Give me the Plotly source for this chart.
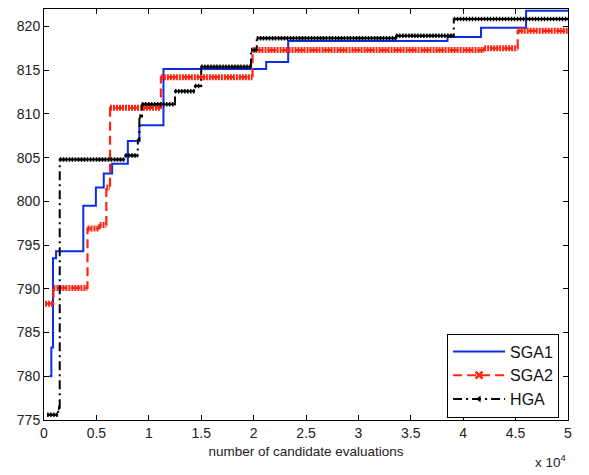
import plotly.graph_objects as go

# Best objective found so far vs. number of candidate evaluations
sga1_x = [500, 700, 860, 1150, 3750, 4950, 5700, 6500, 8000, 9100, 11400,
          21200, 23300, 38500, 41700, 46000, 50000]
sga1_y = [780.0, 783.3, 793.5, 794.3, 799.5, 801.6, 803.2, 804.3, 806.9, 808.7,
          815.15, 815.95, 818.35, 818.8, 819.85, 821.8, 821.8]

sga2_x = [100, 900, 4150, 5300, 5950, 6300, 11150, 19900, 42000, 45200, 50000]
sga2_y = [788.3, 790.1, 796.9, 797.3, 801.6, 810.7, 814.2, 817.3, 817.5,
          819.5, 819.5]

hga_x = [300, 1350, 1500, 7750, 8950, 9100, 9350, 12500, 14400, 15000, 19750,
         20300, 33600, 39100, 50000]
hga_y = [775.6, 776.4, 804.8, 805.25, 807.0, 809.7, 811.1, 812.6, 813.2, 815.4,
         817.3, 818.65, 818.95, 820.85, 820.85]

x_ticks = [0, 5000, 10000, 15000, 20000, 25000, 30000, 35000, 40000, 45000, 50000]
x_tick_labels = ["0", "0.5", "1", "1.5", "2", "2.5", "3", "3.5", "4", "4.5", "5"]
y_ticks = [775, 780, 785, 790, 795, 800, 805, 810, 815, 820]

BLUE = "#0b2fe6"
RED = "#ff2410"
BLACK = "#000000"
FONT = "Liberation Sans, Arial, sans-serif"


def plateaus(xs, ys):
    """Horizontal runs of a step series, separated by gaps."""
    sx, sy = [], []
    for i in range(len(xs) - 1):
        sx += [xs[i], xs[i + 1], None]
        sy += [ys[i], ys[i], None]
    return sx, sy


fig = go.Figure()

# SGA1: plain solid step line
fig.add_trace(go.Scatter(x=sga1_x, y=sga1_y, mode="lines", line_shape="hv",
                         line=dict(color=BLUE, width=2), showlegend=False,
                         hoverinfo="skip"))

# SGA2: dashed step line, dense x-markers form a thick band on the plateaus
px, py = plateaus(sga2_x, sga2_y)
fig.add_trace(go.Scatter(x=sga2_x, y=sga2_y, mode="lines", line_shape="hv",
                         line=dict(color=RED, width=2.2, dash="9px,5px"),
                         showlegend=False, hoverinfo="skip"))
fig.add_trace(go.Scatter(x=px, y=py, mode="lines",
                         line=dict(color=RED, width=6, dash="2px,1px"),
                         showlegend=False, hoverinfo="skip"))

# HGA: dash-dot step line, dense arrow markers on the plateaus
hx, hy = plateaus(hga_x, hga_y)
fig.add_trace(go.Scatter(x=hga_x, y=hga_y, mode="lines", line_shape="hv",
                         line=dict(color=BLACK, width=2, dash="9px,4px,2px,4px"),
                         showlegend=False, hoverinfo="skip"))
fig.add_trace(go.Scatter(x=hx, y=hy, mode="lines",
                         line=dict(color=BLACK, width=2),
                         showlegend=False, hoverinfo="skip"))
fig.add_trace(go.Scatter(x=hx, y=hy, mode="lines",
                         line=dict(color=BLACK, width=4.5, dash="1.5px,1.5px"),
                         showlegend=False, hoverinfo="skip"))

# Legend entries
fig.add_trace(go.Scatter(x=[None], y=[None], mode="lines", name="SGA1",
                         line=dict(color=BLUE, width=2)))
fig.add_trace(go.Scatter(x=[None], y=[None], mode="lines+markers", name="SGA2",
                         line=dict(color=RED, width=2, dash="9px,5px"),
                         marker=dict(symbol="x-thin", size=7,
                                     line=dict(color=RED, width=2.5))))
fig.add_trace(go.Scatter(x=[None], y=[None], mode="lines+markers", name="HGA",
                         line=dict(color=BLACK, width=2, dash="9px,4px,2px,4px"),
                         marker=dict(symbol="triangle-left", size=6, color=BLACK)))

axis_common = dict(showline=True, linecolor="black", linewidth=1, mirror="allticks",
                   ticks="inside", ticklen=5, tickcolor="black", showgrid=False,
                   zeroline=False, tickfont=dict(family=FONT, size=14, color="#222"))

fig.update_xaxes(range=[0, 50000], tickvals=x_ticks, ticktext=x_tick_labels,
                 title=dict(text="number of candidate evaluations",
                            font=dict(family=FONT, size=13.5, color="#222"),
                            standoff=6),
                 **axis_common)
fig.update_yaxes(range=[775, 822], tickvals=y_ticks, **axis_common)

fig.add_annotation(xref="paper", yref="paper", x=1.0, y=-0.074,
                   xanchor="right", yanchor="top", showarrow=False,
                   text="x 10<sup>4</sup>",
                   font=dict(family=FONT, size=13.5, color="#222"))

fig.update_layout(
    width=589, height=475,
    margin=dict(l=44, r=21, t=9, b=55),
    paper_bgcolor="white", plot_bgcolor="white",
    legend=dict(x=0.983, y=0.006, xanchor="right", yanchor="bottom",
                bgcolor="white", bordercolor="black", borderwidth=1,
                font=dict(family=FONT, size=16, color="#111"),
                tracegroupgap=0, itemwidth=52),
    showlegend=True,
)

fig.write_html("out.html")
